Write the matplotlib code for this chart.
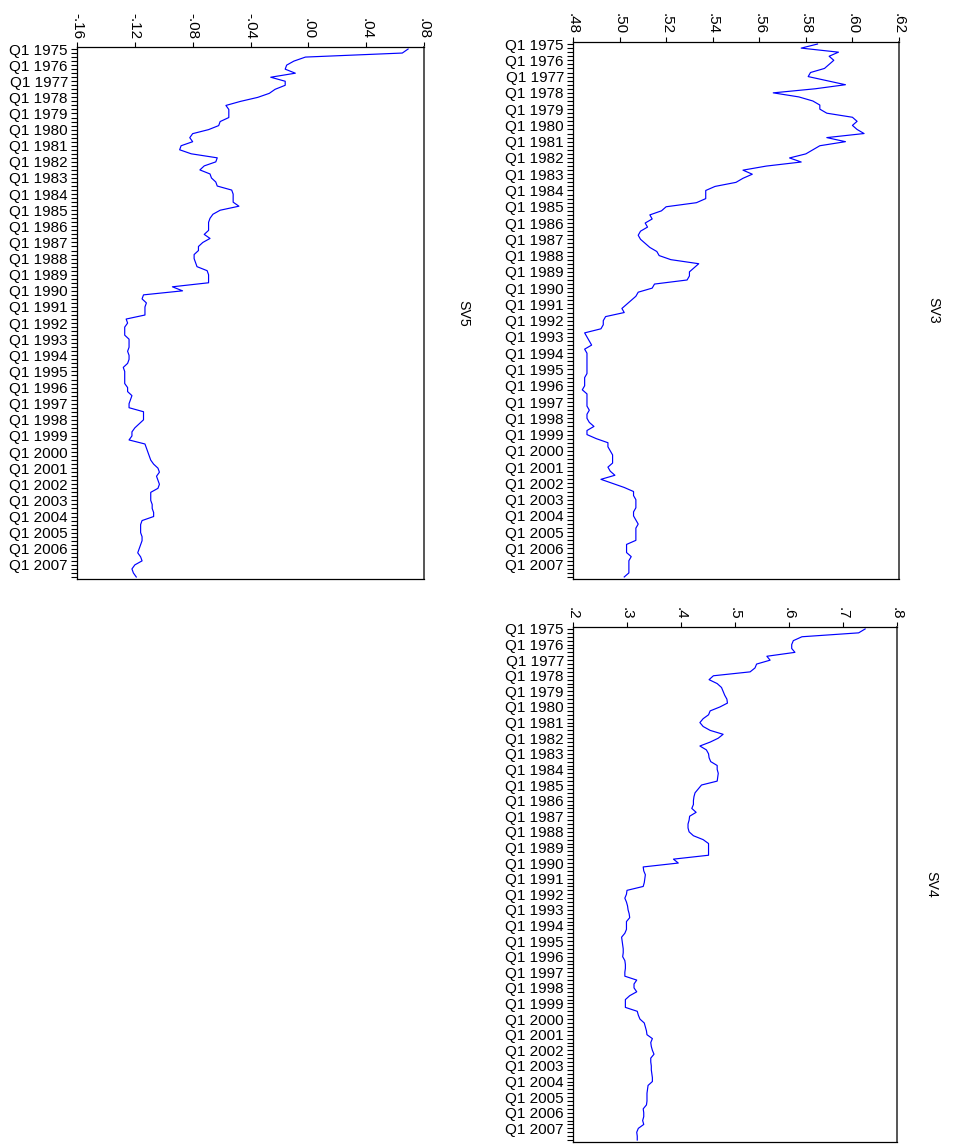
import numpy as np
import matplotlib
matplotlib.use("Agg")
from matplotlib import pyplot as plt
from matplotlib.ticker import FixedLocator, FuncFormatter

plt.rcParams['font.family'] = ['Liberation Sans', 'DejaVu Sans']

# quarterly observations Q1 1975 .. Q4 2007, one row per year
sv3 = [.585, .578, .594, .590,  .592, .590, .588, .582,  .581, .589, .597, .584,
       .566, .577, .583, .586,  .586, .589, .600, .602,  .600, .602, .605, .589,
       .597, .586, .583, .580,  .573, .578, .563, .553,  .557, .553, .550, .541,
       .537, .537, .537, .533,  .520, .518, .513, .514,  .511, .512, .509, .508,
       .509, .511, .513, .516,  .517, .522, .534, .532,  .530, .530, .529, .515,
       .514, .508, .507, .505,  .503, .501, .502, .494,  .493, .493, .492, .485,
       .486, .487, .488, .485,  .486, .486, .486, .486,  .486, .486, .485, .485,
       .485, .484, .486, .486,  .486, .486, .487, .486,  .486, .487, .489, .486,
       .486, .490, .495, .495,  .496, .497, .497, .497,  .495, .496, .498, .492,
       .497, .502, .506, .506,  .507, .507, .507, .506,  .506, .507, .508, .507,
       .507, .507, .507, .503,  .503, .503, .505, .504,  .504, .504, .504, .502]

sv4 = [.741, .729, .624, .608,  .605, .605, .611, .559,  .565, .540, .537, .528,
       .460, .452, .467, .475,  .478, .481, .485, .486,  .472, .454, .451, .441,
       .435, .441, .454, .478,  .469, .454, .435, .447,  .451, .452, .455, .467,
       .467, .469, .468, .467,  .438, .432, .426, .424,  .423, .423, .420, .428,
       .416, .415, .413, .413,  .415, .423, .441, .451,  .451, .451, .451, .386,
       .395, .330, .331, .334,  .333, .332, .330, .300,  .299, .296, .299, .301,
       .302, .304, .305, .299,  .299, .299, .296, .290,  .291, .292, .293, .293,
       .292, .296, .297, .297,  .296, .296, .318, .313,  .313, .318, .305, .297,
       .297, .297, .319, .321,  .324, .332, .334, .336,  .337, .347, .344, .345,
       .347, .350, .344, .344,  .345, .345, .346, .347,  .347, .339, .338, .337,
       .337, .337, .336, .330,  .331, .331, .329, .331,  .321, .318, .319, .319]

sv5 = [.069, .065, -.002, -.010,  -.015, -.016, -.009, -.026,  -.016, -.016, -.023, -.027,
       -.035, -.047, -.057, -.055,  -.055, -.055, -.061, -.062,  -.069, -.080, -.082, -.080,
       -.088, -.089, -.081, -.063,  -.064, -.072, -.075, -.068,  -.067, -.064, -.063, -.053,
       -.052, -.052, -.052, -.048,  -.061, -.066, -.068, -.069,  -.069, -.069, -.072, -.068,
       -.073, -.076, -.076, -.079,  -.079, -.078, -.077, -.070,  -.069, -.069, -.069, -.094,
       -.087, -.114, -.115, -.112,  -.113, -.113, -.113, -.126,  -.125, -.127, -.127, -.127,
       -.124, -.124, -.124, -.125,  -.124, -.124, -.125, -.128,  -.127, -.127, -.127, -.127,
       -.125, -.125, -.122, -.123,  -.124, -.124, -.114, -.114,  -.114, -.117, -.120, -.122,
       -.122, -.124, -.113, -.112,  -.111, -.110, -.109, -.107,  -.104, -.103, -.105, -.104,
       -.103, -.104, -.109, -.109,  -.109, -.108, -.108, -.107,  -.107, -.115, -.116, -.116,
       -.116, -.115, -.115, -.116,  -.117, -.118, -.116, -.115,  -.120, -.122, -.121, -.119]

years = list(range(1975, 2008))
date_labels = ["Q1 %d" % y for y in years]

sv3_ticks = [.48, .50, .52, .54, .56, .58, .60, .62]
sv4_ticks = [.2, .3, .4, .5, .6, .7, .8]
sv5_ticks = [-.16, -.12, -.08, -.04, .00, .04, .08]

W, H = 954, 1144
fig = plt.figure(figsize=(W / 100, H / 100), dpi=100)


def px_axes(x0, y0, x1, y1):
    # pixel box (top-left origin) -> figure fraction axes
    return fig.add_axes([x0 / W, 1 - y1 / H, (x1 - x0) / W, (y1 - y0) / H])


def eviews_fmt(ndec):
    def f(v, pos):
        s = ("%." + str(ndec) + "f") % v
        return s.replace("0.", ".")
    return FuncFormatter(f)


def panel(ax, data, ticks, ndec, title, title_gap):
    n = len(data)
    idx = np.arange(n)
    ax.plot(data, idx, color='#0000ff', lw=0.85)
    ax.set_xlim(ticks[0], ticks[-1])
    ax.set_ylim(n - 0.5, -0.5)
    ax.xaxis.set_ticks_position('top')
    ax.xaxis.set_major_locator(FixedLocator(ticks))
    ax.xaxis.set_major_formatter(eviews_fmt(ndec))
    ax.tick_params(axis='x', direction='out', length=3.5, width=0.8, pad=2,
                   labelsize=11, labelrotation=-90)
    ax.yaxis.set_major_locator(FixedLocator(np.arange(0, n, 4)))
    ax.set_yticklabels(date_labels)
    ax.yaxis.set_minor_locator(FixedLocator(np.arange(0, n)))
    ax.tick_params(axis='y', which='both', direction='out', length=4.5, width=0.8,
                   pad=2, labelsize=11)
    for s in ax.spines.values():
        s.set_linewidth(0.9)
    ax.spines['right'].set_color('#555555')
    ax.spines['right'].set_linewidth(1.4)
    ax.text(1 + title_gap, 0.5, title, transform=ax.transAxes, rotation=-90,
            ha='center', va='center', fontsize=10.2)


ax3 = px_axes(573, 42, 899, 579)
panel(ax3, sv3, sv3_ticks, 2, "SV3", 34 / 326)

ax4 = px_axes(573, 627, 897, 1142)
panel(ax4, sv4, sv4_ticks, 1, "SV4", 34 / 324)

ax5 = px_axes(77, 47, 424, 579)
panel(ax5, sv5, sv5_ticks, 2, "SV5", 39 / 347)

fig.savefig("out.png", dpi=100)
